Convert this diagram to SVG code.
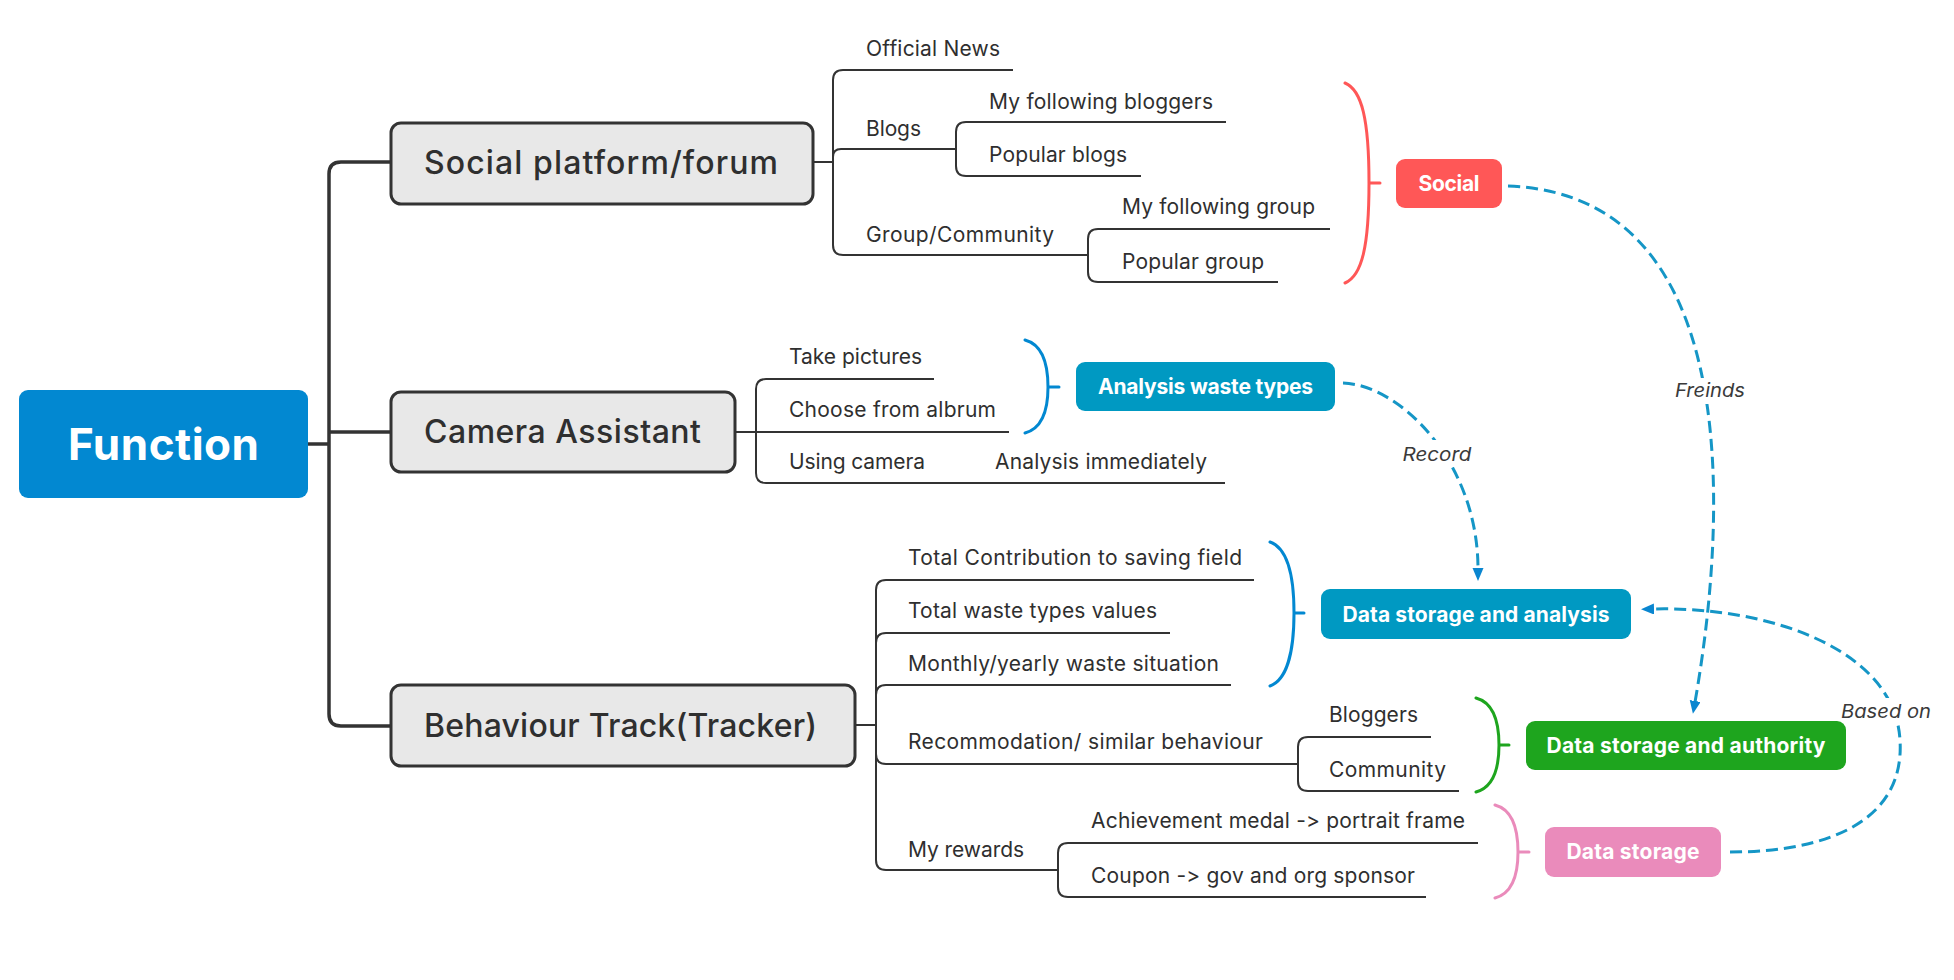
<svg xmlns="http://www.w3.org/2000/svg" width="1954" height="980" viewBox="0 0 1954 980">
<style>
text{font-family:Inter,"Liberation Sans",sans-serif;fill:#2f2f2f;font-feature-settings:"calt" 0,"liga" 0;font-variant-ligatures:none}
.main{font-size:32px;text-anchor:middle;font-weight:500}
.sub{font-size:21px}
.lab{font-size:21px;font-weight:bold;fill:#fff;text-anchor:middle}
.edge{font-size:19px;font-style:italic;text-anchor:middle;fill:#3a3a3a}
.trunk{fill:none;stroke:#333;stroke-width:3.5}
.br{fill:none;stroke:#333;stroke-width:2}
.node{fill:#e8e8e8;stroke:#333;stroke-width:3}
.dash{fill:none;stroke:#1596c6;stroke-width:3;stroke-dasharray:12 6;marker-end:url(#arr)}
.brk{fill:none;stroke-width:3;stroke-linecap:round}
</style>
<defs>
<marker id="arr" markerUnits="userSpaceOnUse" markerWidth="14" markerHeight="12" refX="1" refY="5.5" orient="auto">
<path d="M0,0 L13,5.5 L0,11 z" fill="#0a86d0"/>
</marker>
</defs>
<rect width="1954" height="980" fill="#fff"/>

<g id="connectors">
<path class="trunk" d="M308,444 H329"/>
<path class="trunk" d="M391,162 H341 Q329,162 329,174 V714 Q329,726 341,726 H391"/>
<path class="trunk" d="M329,432 H391"/>

<path class="br" d="M813,162 H833"/>
<path class="br" d="M833,162 V80 Q833,70 843,70 H1013"/>
<path class="br" d="M833,162 V157 Q833,149 841,149 H956"/>
<path class="br" d="M833,162 V245 Q833,255 843,255 H1088"/>
<path class="br" d="M956,149 V132 Q956,122 966,122 H1226"/>
<path class="br" d="M956,149 V166 Q956,176 966,176 H1141"/>
<path class="br" d="M1088,255 V239 Q1088,229 1098,229 H1330"/>
<path class="br" d="M1088,255 V272 Q1088,282 1098,282 H1278"/>

<path class="br" d="M735,432 H756"/>
<path class="br" d="M756,432 V389 Q756,379 766,379 H934"/>
<path class="br" d="M756,432 H1009"/>
<path class="br" d="M756,432 V473 Q756,483 766,483 H1225"/>

<path class="br" d="M855,725 H876"/>
<path class="br" d="M876,725 V590 Q876,580 886,580 H1254"/>
<path class="br" d="M876,725 V643 Q876,633 886,633 H1170"/>
<path class="br" d="M876,725 V695 Q876,685 886,685 H1231"/>
<path class="br" d="M876,725 V754 Q876,764 886,764 H1298"/>
<path class="br" d="M876,725 V860 Q876,870 886,870 H1058"/>
<path class="br" d="M1298,764 V747 Q1298,737 1308,737 H1431"/>
<path class="br" d="M1298,764 V781 Q1298,791 1308,791 H1459"/>
<path class="br" d="M1058,870 V853 Q1058,843 1068,843 H1478"/>
<path class="br" d="M1058,870 V887 Q1058,897 1068,897 H1426"/>

<path class="brk" stroke="#ff5757" d="M1345,83 C1362,90 1369,120 1369,183 C1369,246 1362,276 1345,283 M1369,183 H1380"/>
<path class="brk" stroke="#0288d1" d="M1025,340 C1040,344 1048,360 1048,387 C1048,414 1040,429 1025,433 M1048,387 H1059"/>
<path class="brk" stroke="#0288d1" d="M1270,542 C1287,548 1294,575 1294,613 C1294,651 1287,680 1270,686 M1294,613 H1304"/>
<path class="brk" stroke="#1ea51e" d="M1476,698 C1491,702 1499,718 1499,745 C1499,772 1491,788 1476,792 M1499,745 H1509"/>
<path class="brk" stroke="#ea8bbb" d="M1495,805 C1510,809 1518,825 1518,852 C1518,879 1510,894 1495,898 M1518,852 H1529"/>

<path class="dash" d="M1508,186 C1760,195 1720,560 1695,702"/>
<path class="dash" d="M1343,383 C1400,385 1478,462 1478,569"/>
<path class="dash" d="M1730,852 C1830,852 1905,820 1900,740 C1895,650 1770,606 1653,609"/>

<rect x="1672" y="378" width="76" height="26" fill="#fff"/>
<text class="edge" x="1710" y="397" textLength="70" lengthAdjust="spacingAndGlyphs">Freinds</text>
<rect x="1400" y="440" width="74" height="27" fill="#fff"/>
<text class="edge" x="1437" y="461" textLength="69" lengthAdjust="spacingAndGlyphs">Record</text>
<rect x="1838" y="698" width="96" height="27" fill="#fff"/>
<text class="edge" x="1886" y="718" textLength="90" lengthAdjust="spacingAndGlyphs">Based on</text>
</g>

<g id="function">
<rect x="19" y="390" width="289" height="108" rx="9" fill="#0288d1"/>
<text x="163.5" y="460" font-size="44" font-weight="bold" text-anchor="middle" style="fill:#fff" textLength="191">Function</text>
</g>

<g id="social-platform">
<rect class="node" x="391" y="123" width="422" height="81" rx="10"/>
<text class="main" x="601" y="174" textLength="354">Social platform/forum</text>
</g>
<g id="camera-assistant">
<rect class="node" x="391" y="392" width="344" height="80" rx="10"/>
<text class="main" x="562.5" y="443" textLength="277">Camera Assistant</text>
</g>
<g id="behaviour-track">
<rect class="node" x="391" y="685" width="464" height="81" rx="10"/>
<text class="main" x="620.5" y="737" textLength="393">Behaviour Track(Tracker)</text>
</g>

<g id="official-news"><text class="sub" x="866" y="56" textLength="134">Official News</text></g>
<g id="blogs"><text class="sub" x="866" y="136" textLength="55">Blogs</text></g>
<g id="my-following-bloggers"><text class="sub" x="989" y="109" textLength="224">My following bloggers</text></g>
<g id="popular-blogs"><text class="sub" x="989" y="162" textLength="138">Popular blogs</text></g>
<g id="group-community"><text class="sub" x="866" y="242" textLength="188">Group/Community</text></g>
<g id="my-following-group"><text class="sub" x="1122" y="214" textLength="193">My following group</text></g>
<g id="popular-group"><text class="sub" x="1122" y="269" textLength="142">Popular group</text></g>

<g id="take-pictures"><text class="sub" x="789" y="364" textLength="133">Take pictures</text></g>
<g id="choose-from-albrum"><text class="sub" x="789" y="417" textLength="207">Choose from albrum</text></g>
<g id="using-camera"><text class="sub" x="789" y="469" textLength="136">Using camera</text></g>
<g id="analysis-immediately"><text class="sub" x="995" y="469" textLength="212">Analysis immediately</text></g>

<g id="total-contribution"><text class="sub" x="908" y="565" textLength="334">Total Contribution to saving field</text></g>
<g id="total-waste"><text class="sub" x="908" y="618" textLength="249">Total waste types values</text></g>
<g id="monthly"><text class="sub" x="908" y="671" textLength="311">Monthly/yearly waste situation</text></g>
<g id="recommodation"><text class="sub" x="908" y="749" textLength="355">Recommodation/ similar behaviour</text></g>
<g id="my-rewards"><text class="sub" x="908" y="857" textLength="116">My rewards</text></g>
<g id="bloggers"><text class="sub" x="1329" y="722" textLength="89">Bloggers</text></g>
<g id="community"><text class="sub" x="1329" y="777" textLength="117">Community</text></g>
<g id="achievement"><text class="sub" x="1091" y="828" textLength="374">Achievement medal -&gt; portrait frame</text></g>
<g id="coupon"><text class="sub" x="1091" y="883" textLength="324">Coupon -&gt; gov and org sponsor</text></g>

<g id="social">
<rect x="1396" y="159" width="106" height="49" rx="9" fill="#ff5757"/>
<text class="lab" x="1449" y="191" textLength="61">Social</text>
</g>
<g id="analysis-waste-types">
<rect x="1076" y="362" width="259" height="49" rx="9" fill="#0099c2"/>
<text class="lab" x="1205.5" y="394" textLength="215">Analysis waste types</text>
</g>
<g id="data-storage-analysis">
<rect x="1321" y="589" width="310" height="50" rx="9" fill="#0099c2"/>
<text class="lab" x="1476" y="621.5" textLength="267">Data storage and analysis</text>
</g>
<g id="data-storage-authority">
<rect x="1526" y="721" width="320" height="49" rx="9" fill="#1ea51e"/>
<text class="lab" x="1686" y="753" textLength="279">Data storage and authority</text>
</g>
<g id="data-storage">
<rect x="1545" y="827" width="176" height="50" rx="9" fill="#ea8bbb"/>
<text class="lab" x="1633" y="859" textLength="133">Data storage</text>
</g>
</svg>
